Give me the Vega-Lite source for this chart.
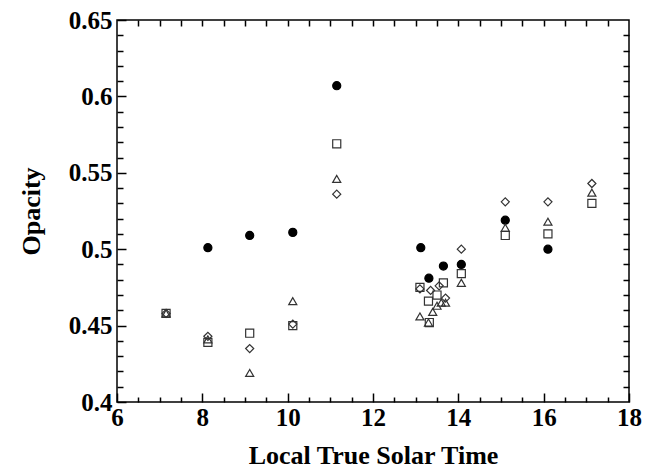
{
  "$schema": "https://vega.github.io/schema/vega-lite/v6.json",
  "autosize": "none",
  "width": 512,
  "height": 382,
  "padding": {"left": 117, "top": 20, "right": 19, "bottom": 68},
  "background": "white",
  "config": {
    "view": {"stroke": "black", "strokeWidth": 1.5},
    "axis": {
      "domain": false, "grid": false, "tickColor": "black", "tickWidth": 1.5,
      "labelFont": "Liberation Serif", "labelFontWeight": "bold", "labelFontSize": 25, "labelColor": "black",
      "titleFont": "Liberation Serif", "titleFontWeight": "bold", "titleFontSize": 26, "titleColor": "black"
    }
  },
  "data": {"values": [
    {"t": 8.13, "op": 0.501, "s": "A"},
    {"t": 9.11, "op": 0.509, "s": "A"},
    {"t": 10.12, "op": 0.511, "s": "A"},
    {"t": 11.15, "op": 0.607, "s": "A"},
    {"t": 13.12, "op": 0.501, "s": "A"},
    {"t": 13.31, "op": 0.481, "s": "A"},
    {"t": 13.65, "op": 0.489, "s": "A"},
    {"t": 14.07, "op": 0.490, "s": "A"},
    {"t": 15.1, "op": 0.519, "s": "A"},
    {"t": 16.1, "op": 0.500, "s": "A"},
    {"t": 7.15, "op": 0.458, "s": "B"},
    {"t": 8.13, "op": 0.439, "s": "B"},
    {"t": 9.11, "op": 0.445, "s": "B"},
    {"t": 10.12, "op": 0.450, "s": "B"},
    {"t": 11.15, "op": 0.569, "s": "B"},
    {"t": 13.1, "op": 0.475, "s": "B"},
    {"t": 13.3, "op": 0.466, "s": "B"},
    {"t": 13.32, "op": 0.452, "s": "B"},
    {"t": 13.5, "op": 0.470, "s": "B"},
    {"t": 13.65, "op": 0.478, "s": "B"},
    {"t": 14.07, "op": 0.484, "s": "B"},
    {"t": 15.1, "op": 0.509, "s": "B"},
    {"t": 16.1, "op": 0.510, "s": "B"},
    {"t": 17.13, "op": 0.530, "s": "B"},
    {"t": 7.15, "op": 0.458, "s": "C"},
    {"t": 8.13, "op": 0.443, "s": "C"},
    {"t": 9.11, "op": 0.435, "s": "C"},
    {"t": 10.12, "op": 0.451, "s": "C"},
    {"t": 11.15, "op": 0.536, "s": "C"},
    {"t": 13.1, "op": 0.474, "s": "C"},
    {"t": 13.35, "op": 0.473, "s": "C"},
    {"t": 13.55, "op": 0.476, "s": "C"},
    {"t": 13.7, "op": 0.468, "s": "C"},
    {"t": 14.07, "op": 0.500, "s": "C"},
    {"t": 15.1, "op": 0.531, "s": "C"},
    {"t": 16.1, "op": 0.531, "s": "C"},
    {"t": 17.13, "op": 0.543, "s": "C"},
    {"t": 7.15, "op": 0.458, "s": "D"},
    {"t": 8.13, "op": 0.441, "s": "D"},
    {"t": 9.11, "op": 0.419, "s": "D"},
    {"t": 10.12, "op": 0.466, "s": "D"},
    {"t": 11.15, "op": 0.546, "s": "D"},
    {"t": 13.1, "op": 0.456, "s": "D"},
    {"t": 13.3, "op": 0.452, "s": "D"},
    {"t": 13.4, "op": 0.459, "s": "D"},
    {"t": 13.5, "op": 0.463, "s": "D"},
    {"t": 13.6, "op": 0.465, "s": "D"},
    {"t": 13.7, "op": 0.465, "s": "D"},
    {"t": 14.07, "op": 0.478, "s": "D"},
    {"t": 15.1, "op": 0.514, "s": "D"},
    {"t": 16.1, "op": 0.518, "s": "D"},
    {"t": 17.13, "op": 0.537, "s": "D"}
  ]},
  "resolve": {"axis": {"x": "independent", "y": "independent"}},
  "layer": [
    {
      "mark": {"type": "point", "opacity": 0},
      "encoding": {
        "x": {"field": "t", "type": "quantitative", "scale": {"domain": [6, 18], "nice": false, "zero": false},
          "axis": {"orient": "bottom", "values": [6.5,7,7.5,8.5,9,9.5,10.5,11,11.5,12.5,13,13.5,14.5,15,15.5,16.5,17,17.5], "tickSize": -5, "labels": false, "title": null}},
        "y": {"field": "op", "type": "quantitative", "scale": {"domain": [0.4, 0.65], "nice": false, "zero": false},
          "axis": {"orient": "left", "values": [0.41,0.42,0.43,0.44,0.46,0.47,0.48,0.49,0.51,0.52,0.53,0.54,0.56,0.57,0.58,0.59,0.61,0.62,0.63,0.64], "tickSize": -6, "labels": false, "title": null}}
      }
    },
    {
      "mark": {"type": "point", "opacity": 0},
      "encoding": {
        "x": {"field": "t", "type": "quantitative", "scale": {"domain": [6, 18], "nice": false, "zero": false},
          "axis": {"orient": "top", "values": [6.5,7,7.5,8,8.5,9,9.5,10,10.5,11,11.5,12,12.5,13,13.5,14,14.5,15,15.5,16,16.5,17,17.5], "tickSize": -6, "labels": false, "title": null}},
        "y": {"field": "op", "type": "quantitative", "scale": {"domain": [0.4, 0.65], "nice": false, "zero": false},
          "axis": {"orient": "right", "values": [0.41,0.42,0.43,0.44,0.45,0.46,0.47,0.48,0.49,0.5,0.51,0.52,0.53,0.54,0.55,0.56,0.57,0.58,0.59,0.6,0.61,0.62,0.63,0.64], "tickSize": -6, "labels": false, "title": null}}
      }
    },
    {
      "mark": {"type": "point", "filled": true, "size": 65, "strokeWidth": 1.2, "opacity": 1},
      "encoding": {
        "x": {"field": "t", "type": "quantitative", "scale": {"domain": [6, 18], "nice": false, "zero": false},
          "axis": {"orient": "bottom", "values": [6, 8, 10, 12, 14, 16, 18], "tickSize": -9, "labelPadding": 12, "title": "Local True Solar Time", "titlePadding": 12, "labelFlush": false}},
        "y": {"field": "op", "type": "quantitative", "scale": {"domain": [0.4, 0.65], "nice": false, "zero": false},
          "axis": {"orient": "left", "values": [0.4, 0.45, 0.5, 0.55, 0.6, 0.65], "format": "~g", "tickSize": -9, "labelPadding": 14, "title": "Opacity", "titlePadding": 24, "labelFlush": false}},
        "shape": {"field": "s", "type": "nominal", "scale": {"domain": ["A", "B", "C", "D"], "range": ["circle", "square", "diamond", "triangle-up"]}, "legend": null},
        "fill": {"field": "s", "type": "nominal", "scale": {"domain": ["A", "B", "C", "D"], "range": ["black", "transparent", "transparent", "transparent"]}, "legend": null},
        "stroke": {"field": "s", "type": "nominal", "scale": {"domain": ["A", "B", "C", "D"], "range": ["black", "#333333", "#333333", "#333333"]}, "legend": null}
      }
    }
  ]
}
